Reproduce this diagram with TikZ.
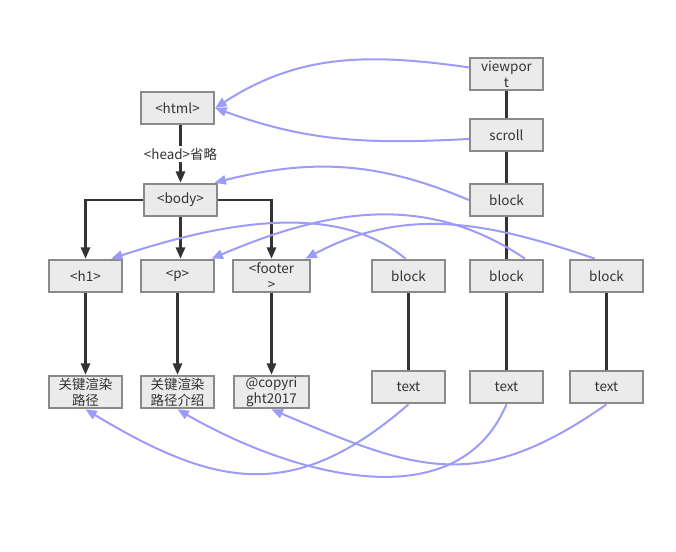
\documentclass[tikz,border=0pt]{standalone}
\usepackage{fontspec}
\setmainfont{Noto Sans CJK SC}
\usetikzlibrary{arrows.meta}
\definecolor{linkblue}{HTML}{9C9CF8}
\definecolor{boxfill}{HTML}{EBEBEB}
\definecolor{boxline}{HTML}{8A8A8A}
\definecolor{ink}{HTML}{333333}

\begin{document}
\begin{tikzpicture}[
  x=0.75pt,
  y=0.75pt,
  font=\fontsize{10.1}{12}\selectfont,
  box/.style={
    draw=boxline,
    fill=boxfill,
    line width=1.5pt,
    minimum width=55pt,
    minimum height=24.5pt,
    inner sep=1pt,
    align=center,
    text=ink
  },
  tree/.style={line width=1.6pt, ink},
  treearrow/.style={tree, -{Triangle[length=8.5pt,width=7pt]}},
  link/.style={line width=1.5pt, linkblue, -{Triangle[length=8.5pt,width=7pt]}}
]
\useasboundingbox (0,0) rectangle (676,-551);

% render side
\node[box] (viewport) at (506.5,-74) {viewpor\\t};
\node[box] (scroll) at (506.5,-135) {scroll};
\node[box] (block) at (506.5,-200) {block};
\node[box] (block1) at (408.5,-276) {block};
\node[box] (block2) at (506.5,-276) {block};
\node[box] (block3) at (606.5,-276) {block};
\node[box] (text1) at (408.5,-387) {text};
\node[box] (text2) at (506.5,-387) {text};
\node[box] (text3) at (606.5,-387) {text};

% dom side
\node[box] (html) at (177.5,-108) {<html>};
\node[box] (body) at (180.5,-200) {<body>};
\node[box] (h1) at (85.5,-276) {<h1>};
\node[box] (p) at (177.5,-276) {<p>};
\node[box, minimum width=58pt] (footer) at (271.5,-276) {<footer\\>};
\node[box] (path1) at (85.5,-392) {关键渲染\\路径};
\node[box] (path2) at (177.5,-392) {关键渲染\\路径介绍};
\node[box, minimum width=56.5pt] (copyright) at (271.5,-392) {@copyri\\ght2017};

\draw[treearrow] (body.north |- html.south) -- node[fill=white, inner sep=1pt, text=ink] {<head>省略} (body.north);
\draw[treearrow] (body.west) -| (h1.north);
\draw[treearrow] (body.south) -- (body.south |- p.north);
\draw[treearrow] (body.east) -| (footer.north);
\draw[treearrow] (h1.south) -- (path1.north);
\draw[treearrow] (p.south) -- (path2.north);
\draw[treearrow] (footer.south) -- (copyright.north);

\draw[tree] (viewport) -- (scroll) -- (block) -- (block2);
\draw[tree] (block1) -- (text1);
\draw[tree] (block2) -- (text2);
\draw[tree] (block3) -- (text3);

% links
\draw[link] (viewport.170) to[out=172, in=33] (html.east);
\draw[link] (scroll.-174) to[out=183, in=-20] (html.east);
\draw[link] (block.west) to[out=157, in=14] (body.27);
\draw[link] (block1.100) to[out=140, in=18, looseness=0.85] (h1.34);
\draw[link] (block2.43) to[out=146, in=23] (p.27);
\draw[link] (block3.124) to[out=161, in=28] (footer.27);
\draw[link] (text1.south) to[out=-139, in=-31, looseness=1.2] (path1.south);
\draw[link] (text2.south) to[out=-113, in=-30] (path2.south);
\draw[link] (text3.south) to[out=-145, in=-23, looseness=1.2] (copyright.south);
\end{tikzpicture}
\end{document}
